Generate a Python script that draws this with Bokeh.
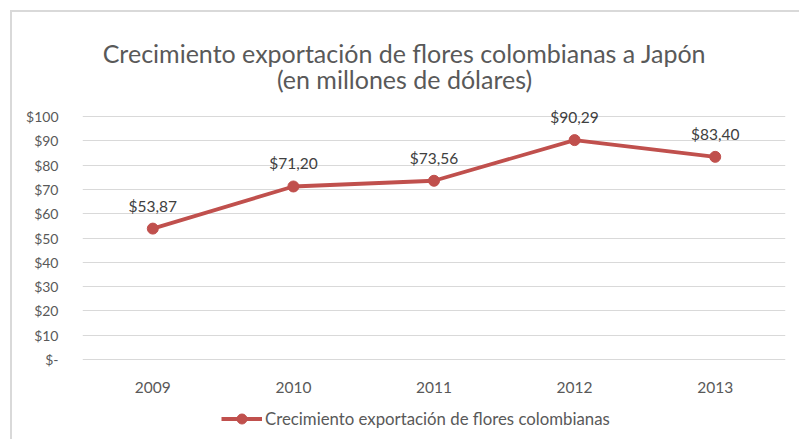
from bokeh.plotting import figure
from bokeh.models import ColumnDataSource, Legend, LegendItem, FixedTicker, Range1d
from bokeh.core.properties import value
from bokeh.embed import file_html
from bokeh.resources import INLINE

years = ["2009", "2010", "2011", "2012", "2013"]
exports = [53.87, 71.20, 73.56, 90.29, 83.40]
labels = ["$53,87", "$71,20", "$73,56", "$90,29", "$83,40"]
y_ticks = [0, 10, 20, 30, 40, 50, 60, 70, 80, 90, 100]
y_tick_labels = ["$-", "$10", "$20", "$30", "$40", "$50", "$60", "$70", "$80", "$90", "$100"]
series_name = "Crecimiento exportación de flores colombianas"
title1 = "Crecimiento exportación de flores colombianas a Japón"
title2 = "(en millones de dólares)"

FONT = "Lato"
RED = "#c0504d"
GREY = "#595959"

src = ColumnDataSource(dict(x=years, y=exports, lab=labels))

# frame spans the full canvas height; value axis 0..100 occupies the middle band
p = figure(x_range=years, y_range=Range1d(-33.74, 142.8), width=789, height=429,
           output_backend="svg", toolbar_location=None,
           min_border_left=70, min_border_right=16, min_border_top=0, min_border_bottom=0)
p.styles = {"border-left": "2px solid #d9d9d9", "border-top": "2px solid #d9d9d9"}
p.margin = (10, 0, 0, 10)
p.outline_line_color = None
p.background_fill_color = "white"
p.border_fill_color = "white"

p.xaxis.visible = False
p.yaxis.ticker = FixedTicker(ticks=y_ticks)
p.yaxis.major_label_overrides = {t: l for t, l in zip(y_ticks, y_tick_labels)}
p.yaxis.axis_line_color = None
p.yaxis.major_tick_line_color = None
p.yaxis.minor_tick_line_color = None
p.yaxis.major_label_text_font = FONT
p.yaxis.major_label_text_font_size = "14px"
p.yaxis.major_label_text_color = GREY
p.yaxis.major_label_standoff = 18
p.xgrid.grid_line_color = None
p.ygrid.grid_line_color = "#d9d9d9"
p.ygrid.grid_line_width = 1

# title (two centred lines)
tsrc = ColumnDataSource(dict(x=[years[2], years[2]], y=[y_ticks[-1]] * 2, t=[title1, title2],
                             off=[-64, -38]))
p.text("x", "y", text="t", source=tsrc, text_font=value(FONT), text_font_size="25px",
       text_color=GREY, text_align="center", text_baseline="alphabetic",
       x_offset=-29.5, y_offset="off")

# category labels
csrc = ColumnDataSource(dict(x=years, y=[y_ticks[0]] * len(years), t=years))
p.text("x", "y", text="t", source=csrc, text_font=value(FONT), text_font_size="15.5px",
       text_color=GREY, text_align="center", text_baseline="alphabetic", y_offset=28)

ln = p.line("x", "y", source=src, line_color=RED, line_width=3.8)
sc = p.scatter("x", "y", source=src, size=11, fill_color=RED, line_color=RED)
p.text("x", "y", text="lab", source=src, text_font=value(FONT), text_font_size="15.5px",
       text_color="#404040", text_align="center", text_baseline="middle", y_offset=-23)

legend = Legend(items=[LegendItem(label=series_name, renderers=[ln, sc])],
                orientation="horizontal", location=(139, 10),
                label_text_font=FONT, label_text_font_size="16.8px", label_text_color=GREY,
                glyph_width=41, glyph_height=25, label_standoff=3, border_line_color=None,
                background_fill_alpha=0, padding=0, margin=0)
p.add_layout(legend, "center")

open("out.html", "w").write(file_html(p, INLINE))
